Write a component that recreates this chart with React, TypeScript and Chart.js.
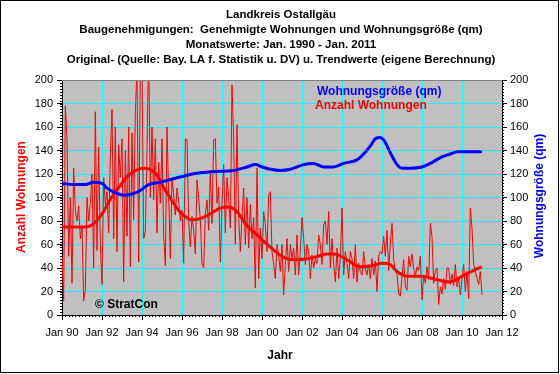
import React, { useEffect, useRef } from "react";
import { Chart, registerables } from "chart.js";
Chart.register(...registerables);

// Monthly approved dwellings (Anzahl Wohnungen), Jan 1990 - Jan 2011
const w1990 = [50, 12, 178, 150, 50, 100, 27, 125, 88, 80, 93, 65];
const w1991 = [75, 12, 22, 100, 80, 95, 120, 40, 173, 55, 143, 60];
const w1992 = [26, 117, 94, 105, 70, 136, 175, 65, 160, 54, 145, 117];
const w1993 = [150, 28, 140, 67, 160, 41, 155, 81, 173, 210, 45, 210];
const w1994 = [215, 65, 71, 140, 230, 100, 160, 98, 150, 70, 130, 95];
const w1995 = [150, 68, 42, 160, 102, 48, 117, 102, 85, 108, 97, 80];
const w1996 = [89, 44, 150, 149, 81, 58, 84, 72, 52, 115, 100, 81];
const w1997 = [44, 40, 86, 98, 72, 123, 78, 149, 150, 95, 109, 45];
const w1998 = [94, 128, 70, 117, 100, 74, 196, 150, 60, 162, 83, 54];
const w1999 = [83, 108, 60, 100, 57, 94, 65, 83, 23, 125, 31, 74];
const w2000 = [48, 88, 77, 54, 102, 105, 54, 43, 31, 60, 51, 37];
const w2001 = [60, 17, 43, 65, 37, 60, 48, 57, 34, 68, 34, 54];
const w2002 = [83, 65, 43, 60, 54, 31, 51, 40, 48, 44, 68, 60];
const w2003 = [43, 77, 80, 60, 88, 40, 65, 43, 28, 57, 31, 48];
const w2004 = [91, 34, 54, 44, 31, 54, 48, 31, 60, 28, 44, 37];
const w2005 = [34, 54, 40, 34, 43, 31, 48, 34, 46, 20, 50, 54];
const w2006 = [52, 67, 50, 72, 38, 61, 78, 47, 38, 35, 18, 16];
const w2007 = [33, 47, 24, 21, 50, 41, 52, 40, 33, 41, 38, 50];
const w2008 = [13, 33, 27, 41, 30, 78, 67, 27, 38, 40, 9, 24];
const w2009 = [18, 31, 22, 40, 40, 26, 35, 25, 43, 24, 31, 17];
const w2010 = [31, 43, 20, 37, 14, 91, 74, 43, 37, 31, 26, 37];
const w2011 = [17];
const startYear = 1990;

// Trend of Anzahl Wohnungen (year, value)
const trendWohnYears = [1990.0, 1990.5, 1991.2, 1991.6, 1992.0, 1992.4, 1992.9, 1993.33, 1993.8, 1994.1, 1994.4, 1994.75, 1995.1, 1995.4, 1995.7, 1996.0, 1996.5, 1996.9, 1997.4, 1997.9, 1998.33, 1998.75, 1999.25, 1999.7, 2000.0, 2000.4, 2000.9, 2001.25, 2001.8, 2002.3, 2002.8, 2003.25, 2003.6, 2004.25, 2004.9, 2005.5, 2006.0, 2006.4, 2006.75, 2007.25, 2008.0, 2008.75, 2009.4, 2010.0, 2010.6, 2011.0];
const trendWohnValues = [75, 75, 75, 78, 86, 98, 110, 119, 124, 125, 124, 119, 108, 100, 92, 86, 81, 82, 86, 91, 92, 88, 76, 69, 64, 58, 51, 48, 47, 48, 50, 52, 52, 47, 41, 42, 44, 43, 37, 33, 33, 30, 28, 33, 38, 41];

// Trend of Wohnungsgröße (qm)
const trendGroesseYears = [1990.0, 1990.58, 1991.17, 1991.58, 1992.0, 1992.25, 1992.67, 1993.08, 1993.5, 1993.92, 1994.33, 1994.92, 1995.58, 1996.25, 1996.92, 1997.5, 1998.58, 1999.25, 1999.67, 2000.0, 2000.42, 2000.92, 2001.42, 2002.08, 2002.58, 2003.08, 2003.58, 2004.08, 2004.75, 2005.08, 2005.42, 2005.67, 2005.9, 2006.08, 2006.42, 2006.75, 2007.0, 2007.42, 2008.0, 2008.42, 2008.92, 2009.42, 2009.75, 2010.0, 2011.0];
const trendGroesseValues = [112, 111, 111, 113, 112, 108, 104, 102, 103, 106, 111, 113, 116, 119, 121, 122, 123, 126, 128, 126, 124, 123, 124, 128, 129, 126, 126, 129, 132, 137, 144, 150, 151, 149, 138, 128, 125, 125, 126, 129, 134, 137, 139, 139, 139];

const xTickYears = [1990, 1992, 1994, 1996, 1998, 2000, 2002, 2004, 2006, 2008, 2010, 2012];
const xTickLabels = ["Jan 90", "Jan 92", "Jan 94", "Jan 96", "Jan 98", "Jan 00", "Jan 02", "Jan 04", "Jan 06", "Jan 08", "Jan 10", "Jan 12"];

const titleLines = [
  "Landkreis Ostallgäu",
  "Baugenehmigungen:  Genehmigte Wohnungen und Wohnungsgröße (qm)",
  "Monatswerte: Jan. 1990 - Jan. 2011",
  "Original- (Quelle: Bay. LA f. Statistik u. DV) u. Trendwerte (eigene Berechnung)",
];

const FONT = "'Liberation Sans', Arial, sans-serif";

const decor = {
  id: "decor",
  beforeDraw(chart: any) {
    const { ctx, chartArea: a } = chart;
    ctx.save();
    ctx.fillStyle = "#ffffff";
    ctx.fillRect(0, 0, chart.width, chart.height);
    ctx.fillStyle = "#c0c0c0";
    ctx.fillRect(a.left, a.top, a.right - a.left, a.bottom - a.top);
    ctx.restore();
  },
  afterDraw(chart: any) {
    const { ctx, chartArea: a } = chart;
    const xs = chart.scales.x;
    const ys = chart.scales.y;
    ctx.save();
    // top border of plot
    ctx.strokeStyle = "#808080";
    ctx.lineWidth = 1;
    ctx.beginPath();
    ctx.moveTo(a.left, a.top + 0.5);
    ctx.lineTo(a.right, a.top + 0.5);
    ctx.stroke();
    // minor ticks
    ctx.strokeStyle = "#000";
    ctx.beginPath();
    for (let v = 0; v <= 200; v += 2.5) {
      const py = Math.round(ys.getPixelForValue(v)) + 0.5;
      ctx.moveTo(a.left - 2, py);
      ctx.lineTo(a.left, py);
      ctx.moveTo(a.right, py);
      ctx.lineTo(a.right + 2, py);
    }
    for (let m = 0; m <= 22 * 6; m++) {
      const px = Math.round(xs.getPixelForValue(1990 + m / 6)) + 0.5;
      ctx.moveTo(px, a.bottom);
      ctx.lineTo(px, a.bottom + 2);
    }
    ctx.stroke();
    // titles
    ctx.fillStyle = "#000";
    ctx.textAlign = "center";
    ctx.textBaseline = "middle";
    ctx.font = `bold 11.5px ${FONT}`;
    titleLines.forEach((t, i) => ctx.fillText(t, 281, 15 + i * 15));
    // in-plot legend
    ctx.font = `bold 12px ${FONT}`;
    ctx.textAlign = "left";
    ctx.fillStyle = "#0000ff";
    ctx.fillText("Wohnungsgröße (qm)", 317, 92);
    ctx.fillStyle = "#ff0000";
    ctx.fillText("Anzahl Wohnungen", 315, 106);
    ctx.fillStyle = "#000";
    ctx.fillText("© StratCon", 95, 305);
    // axis titles
    ctx.textAlign = "center";
    ctx.fillText("Jahr", 280, 356);
    ctx.save();
    ctx.translate(22, 197);
    ctx.rotate(-Math.PI / 2);
    ctx.fillStyle = "#ff0000";
    ctx.fillText("Anzahl Wohnungen", 0, 0);
    ctx.restore();
    ctx.save();
    ctx.translate(540, 196);
    ctx.rotate(-Math.PI / 2);
    ctx.fillStyle = "#0000ff";
    ctx.fillText("Wohnungsgröße (qm)", 0, 0);
    ctx.restore();
    // outer border
    ctx.strokeStyle = "#000";
    ctx.strokeRect(0.5, 0.5, 558, 372);
    ctx.restore();
  },
};

export default function App() {
  const ref = useRef<HTMLCanvasElement | null>(null);
  useEffect(() => {
    const all = [w1990, w1991, w1992, w1993, w1994, w1995, w1996, w1997, w1998, w1999, w2000, w2001, w2002, w2003, w2004, w2005, w2006, w2007, w2008, w2009, w2010, w2011].flat();
    const raw = all.map((v, i) => ({ x: startYear + i / 12, y: v }));
    const tW = trendWohnYears.map((x, i) => ({ x, y: trendWohnValues[i] }));
    const tG = trendGroesseYears.map((x, i) => ({ x, y: trendGroesseValues[i] }));
    const chart = new Chart(ref.current as HTMLCanvasElement, {
      type: "line",
      data: {
        datasets: [
          { label: "Wohnungsgröße (qm)", data: tG, yAxisID: "y2", borderColor: "#0000ff", borderWidth: 3, pointRadius: 0, cubicInterpolationMode: "monotone", order: 0 },
          { label: "Trend Anzahl", data: tW, yAxisID: "y", borderColor: "#ff0000", borderWidth: 3, pointRadius: 0, cubicInterpolationMode: "monotone", order: 1 },
          { label: "Anzahl Wohnungen", data: raw, yAxisID: "y", borderColor: "#ff0000", borderWidth: 1, pointRadius: 0, tension: 0, order: 2 },
        ],
      } as any,
      options: {
        animation: false,
        responsive: false,
        layout: { padding: { top: 80, left: 0, right: 0, bottom: 0 } },
        plugins: { legend: { display: false }, tooltip: { enabled: false }, title: { display: false } },
        scales: {
          x: {
            type: "linear",
            min: 1990,
            max: 2012,
            afterBuildTicks: (s: any) => { s.ticks = xTickYears.map((v) => ({ value: v })); },
            afterFit: (s: any) => { s.height = 59; },
            ticks: {
              callback: (v: any) => xTickLabels[xTickYears.indexOf(Number(v))] ?? "",
              color: "#000",
              font: { family: FONT, size: 11 },
              padding: 6,
              maxRotation: 0,
              autoSkip: false,
            },
            grid: { color: "#00ffff", lineWidth: 1, tickColor: "#000", tickLength: 5 },
            border: { color: "#000", width: 1 },
          },
          y: {
            position: "left",
            min: 0,
            max: 200,
            afterFit: (s: any) => { s.width = 62; },
            ticks: { stepSize: 20, color: "#000", font: { family: FONT, size: 11 }, padding: 4 },
            grid: { color: "#00ffff", lineWidth: 1, tickColor: "#000", tickLength: 5 },
            border: { color: "#000", width: 1 },
          },
          y2: {
            position: "right",
            min: 0,
            max: 200,
            afterFit: (s: any) => { s.width = 58; },
            ticks: { stepSize: 20, color: "#000", font: { family: FONT, size: 11 }, padding: 3 },
            grid: { drawOnChartArea: false, tickColor: "#000", tickLength: 5 },
            border: { color: "#000", width: 1 },
          },
        },
      } as any,
      plugins: [decor],
    });
    return () => chart.destroy();
  }, []);
  return (
    <div style={{ position: "fixed", left: 0, top: 0, width: 560, height: 374, background: "#fff" }}>
      <canvas ref={ref} width={560} height={374} style={{ display: "block", width: 560, height: 374 }} />
    </div>
  );
}
